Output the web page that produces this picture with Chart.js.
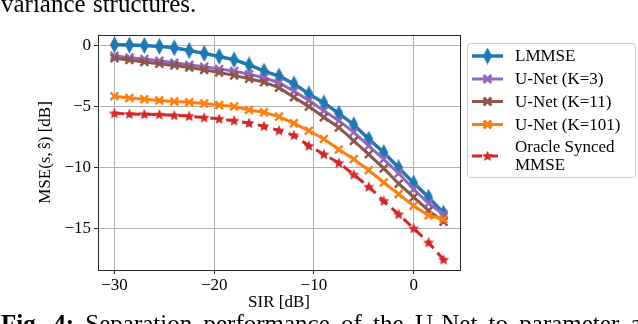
<!DOCTYPE html>
<html>
<head>
<meta charset="utf-8">
<script src="https://cdn.jsdelivr.net/npm/chart.js@4.4.1/dist/chart.umd.min.js"></script>
<style>
  body { margin: 0; width: 638px; height: 324px; overflow: hidden; background: #fff; position: relative; }
  #wrap { position: absolute; left: 0; top: 0; width: 638px; height: 324px; }
  .txt { position: absolute; left: 1px; font-family: 'Liberation Serif', serif; font-size: 25px; line-height: 26px; white-space: nowrap; color: #000; }
  #top { top: -9px; word-spacing: 1px; }
  #cap { top: 311px; word-spacing: 5px; }
</style>
</head>
<body>
<div id="wrap"><canvas id="myChart"></canvas></div>
<div class="txt" id="top">variance structures.</div>
<div class="txt" id="cap"><b>Fig. 4:</b> Separation performance of the U-Net to parameter assumptions</div>
<script>
// SIR values [dB]
let sir = [-30, -28.5, -27, -25.5, -24, -22.5, -21, -19.5, -18, -16.5, -15, -13.5, -12,
           -10.5, -9, -7.5, -6, -4.5, -3, -1.5, 0, 1.5, 3];

// MSE [dB] per method
let lmmse  = [0.05, 0.03, 0, -0.08, -0.2, -0.42, -0.65, -0.9, -1.17, -1.6, -2.1, -2.5, -3.14,
              -3.96, -4.7, -5.55, -6.48, -7.65, -8.75, -10.0, -11.25, -12.4, -13.7];
let unet3  = [-0.85, -1.0, -1.12, -1.25, -1.42, -1.6, -1.75, -1.92, -2.1, -2.35, -2.65, -3.05, -3.74,
              -4.5, -5.33, -6.15, -7.1, -8.2, -9.3, -10.45, -11.75, -12.9, -13.8];
let unet11 = [-1.05, -1.2, -1.35, -1.5, -1.65, -1.8, -2.0, -2.22, -2.45, -2.72, -3.0, -3.45, -4.24,
              -5.0, -5.87, -6.7, -7.8, -8.9, -10.05, -11.3, -12.4, -13.5, -14.4];
let unet101 = [-4.15, -4.3, -4.4, -4.5, -4.58, -4.65, -4.75, -4.88, -5.0, -5.27, -5.47, -5.82, -6.37,
               -6.97, -7.65, -8.5, -9.3, -10.2, -11.2, -12.15, -13.1, -13.9, -14.2];
let oracle = [-5.55, -5.6, -5.63, -5.65, -5.72, -5.78, -5.9, -6.0, -6.15, -6.35, -6.6, -6.95, -7.35,
              -8.2, -8.9, -9.6, -10.55, -11.55, -12.7, -13.8, -14.95, -16.1, -17.5];

let xTicks = [-30, -20, -10, 0];
let yTicks = [0, -5, -10, -15];

// custom markers
function thinDiamond(color) {
    let c = document.createElement('canvas');
    c.width = 9; c.height = 17;
    let g = c.getContext('2d');
    g.fillStyle = color;
    g.beginPath();
    g.moveTo(4.5, 0); g.lineTo(9, 8.5); g.lineTo(4.5, 17); g.lineTo(0, 8.5);
    g.closePath();
    g.fill();
    return c;
}
function star(color) {
    let c = document.createElement('canvas');
    c.width = 12; c.height = 12;
    let g = c.getContext('2d');
    g.fillStyle = color;
    g.beginPath();
    for (let i = 0; i < 10; i++) {
        let r = i % 2 === 0 ? 5.8 : 2.7;
        let a = -Math.PI / 2 + i * Math.PI / 5;
        g.lineTo(6 + r * Math.cos(a), 6.4 + r * Math.sin(a));
    }
    g.closePath();
    g.fill();
    return c;
}

function pts(vals) {
    return sir.map((x, i) => ({x: x, y: vals[i]}));
}

let minus = v => (v < 0 ? '\u2212' + Math.abs(v) : '' + v);

Chart.defaults.font.family = 'Liberation Serif';
Chart.defaults.font.size = 17;
Chart.defaults.color = '#000';

let legendItems = [
    {text: ['LMMSE'], y: 56},
    {text: ['U-Net (K=3)'], y: 79},
    {text: ['U-Net (K=11)'], y: 101.5},
    {text: ['U-Net (K=101)'], y: 124.5},
    {text: ['Oracle Synced', 'MMSE'], y: 156}
];

let framePlugin = {
    id: 'frame',
    afterDatasetsDraw(chart) {
        let a = chart.chartArea, ctx = chart.ctx;
        ctx.save();
        ctx.strokeStyle = '#262626';
        ctx.lineWidth = 1;
        ctx.strokeRect(Math.round(a.left) + 0.5, Math.round(a.top) + 0.5,
                       Math.round(a.right - a.left), Math.round(a.bottom - a.top));
        ctx.restore();
    },
    afterDraw(chart) {
        let ctx = chart.ctx;
        ctx.save();
        // legend box
        ctx.fillStyle = 'rgba(255,255,255,0.8)';
        ctx.strokeStyle = '#cccccc';
        ctx.lineWidth = 1;
        ctx.beginPath();
        ctx.roundRect(467.5, 43.5, 168, 134, 3);
        ctx.fill();
        ctx.stroke();
        ctx.font = '17px "Liberation Serif"';
        ctx.textBaseline = 'middle';
        ctx.fillStyle = '#000';
        legendItems.forEach((it, i) => {
            let ds = chart.data.datasets[i];
            ctx.save();
            ctx.strokeStyle = ds.borderColor;
            ctx.lineWidth = ds.borderWidth;
            ctx.setLineDash(ds.borderDash || []);
            ctx.beginPath();
            ctx.moveTo(472, it.y);
            ctx.lineTo(503, it.y);
            ctx.stroke();
            ctx.setLineDash([]);
            ctx.fillStyle = ds.pointBackgroundColor;
            ctx.strokeStyle = ds.pointBorderColor;
            Chart.helpers.drawPoint(ctx, {
                pointStyle: ds.pointStyle,
                radius: ds.pointRadius,
                borderWidth: ds.pointBorderWidth,
                rotation: 0
            }, 487.5, it.y);
            ctx.restore();
            if (it.text.length === 1) {
                ctx.fillText(it.text[0], 515, it.y + 1);
            } else {
                ctx.fillText(it.text[0], 515, it.y - 8.5);
                ctx.fillText(it.text[1], 515, it.y + 9.5);
            }
        });
        ctx.restore();
    }
};

let ctxMain = document.getElementById('myChart').getContext('2d');

let mseChart = new Chart(ctxMain, {
    type: 'line',
    data: {
        datasets: [{
            label: 'LMMSE',
            data: pts(lmmse),
            borderColor: '#1f77b4',
            borderWidth: 3.5,
            pointStyle: thinDiamond('#1f77b4'),
            pointRadius: 5,
            pointBackgroundColor: '#1f77b4',
            pointBorderColor: '#1f77b4',
            pointBorderWidth: 1,
            order: 5
        }, {
            label: 'U-Net (K=3)',
            data: pts(unet3),
            borderColor: '#9467bd',
            borderWidth: 3,
            pointStyle: 'crossRot',
            pointRadius: 5.5,
            pointBackgroundColor: '#9467bd',
            pointBorderColor: '#9467bd',
            pointBorderWidth: 2.5,
            order: 4
        }, {
            label: 'U-Net (K=11)',
            data: pts(unet11),
            borderColor: '#8c564b',
            borderWidth: 3,
            pointStyle: 'crossRot',
            pointRadius: 5.5,
            pointBackgroundColor: '#8c564b',
            pointBorderColor: '#8c564b',
            pointBorderWidth: 2.5,
            order: 3
        }, {
            label: 'U-Net (K=101)',
            data: pts(unet101),
            borderColor: '#ff7f0e',
            borderWidth: 3,
            pointStyle: 'crossRot',
            pointRadius: 5.5,
            pointBackgroundColor: '#ff7f0e',
            pointBorderColor: '#ff7f0e',
            pointBorderWidth: 2.5,
            order: 2
        }, {
            label: 'Oracle Synced MMSE',
            data: pts(oracle),
            borderColor: '#d62728',
            borderWidth: 3,
            borderDash: [10, 6],
            pointStyle: star('#d62728'),
            pointRadius: 6,
            pointBackgroundColor: '#d62728',
            pointBorderColor: '#d62728',
            pointBorderWidth: 1,
            order: 1
        }]
    },
    options: {
        responsive: true,
        maintainAspectRatio: false,
        animation: false,
        layout: {
            padding: {left: 33, top: 35, right: 178, bottom: 0}
        },
        elements: {
            line: {tension: 0}
        },
        plugins: {
            legend: {display: false},
            tooltip: {enabled: false}
        },
        scales: {
            x: {
                type: 'linear',
                min: -31.65,
                max: 4.65,
                afterBuildTicks: s => { s.ticks = xTicks.map(v => ({value: v})); },
                afterFit: s => { s.height = 54; },
                ticks: {callback: minus, padding: 1, maxRotation: 0, color: '#000'},
                grid: {color: '#b0b0b0', lineWidth: 1, tickColor: '#262626', tickLength: 4},
                border: {display: false},
                title: {display: true, text: 'SIR [dB]', padding: {top: 0, bottom: 11}, color: '#000'}
            },
            y: {
                min: -18.35,
                max: 0.85,
                afterBuildTicks: s => { s.ticks = yTicks.map(v => ({value: v})); },
                afterFit: s => { s.width = 65; },
                ticks: {callback: minus, padding: 3, color: '#000'},
                grid: {color: '#b0b0b0', lineWidth: 1, tickColor: '#262626', tickLength: 4},
                border: {display: false},
                title: {display: true, text: 'MSE(s,\u2009ŝ) [dB]', padding: {top: 2, bottom: 4}, color: '#000'}
            }
        }
    },
    plugins: [framePlugin]
});
</script>
</body>
</html>
